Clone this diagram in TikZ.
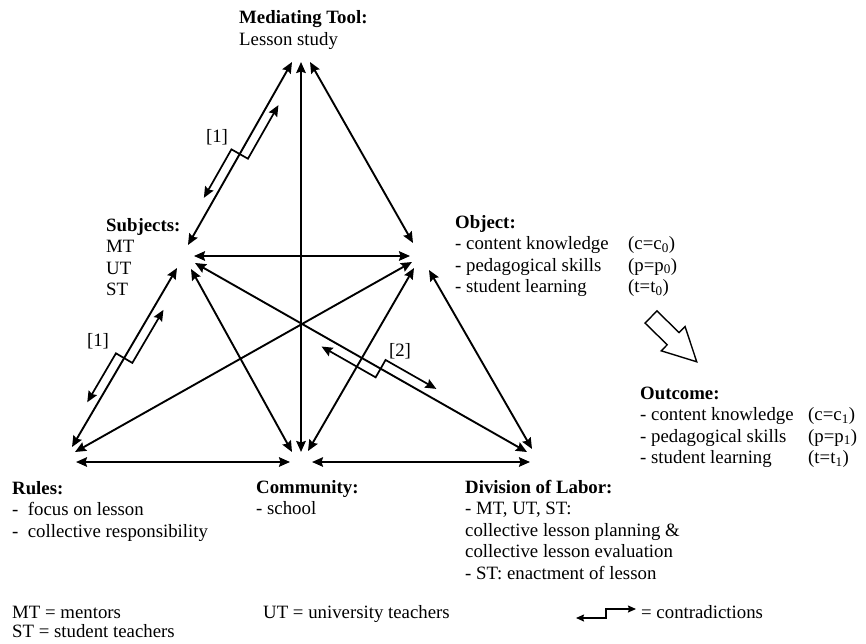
\documentclass[tikz,border=0pt]{standalone}
\usepackage{fontspec}
\setmainfont{Liberation Serif}
\usetikzlibrary{arrows.meta,calc}
\newcommand\contraarrow[7]{%
  \coordinate (#1m) at ($(#2)!#4!(#3)$);
  \coordinate (#1a) at ($(#2)!#6!#5:(#3)$);
  \coordinate (#1b) at ($(#1m)!#6!#5:(#3)$);
  \coordinate (#1c) at ($(#1m)!#6!-#5:(#3)$);
  \coordinate (#1d) at ($(#3)!#6!#5:(#2)$);
  \draw[#7] (#1a) -- (#1b) -- (#1c) -- (#1d);}
\begin{document}
\begin{tikzpicture}[x=1pt,y=-1pt,
  conn/.style={line width=1.9pt,
    {Stealth[length=11pt,width=9.5pt,inset=1.5pt]}-{Stealth[length=11pt,width=9.5pt,inset=1.5pt]}},
  contra/.style={line width=1.7pt,
    {Stealth[length=11pt,width=9.5pt,inset=1.5pt]}-{Stealth[length=11pt,width=9.5pt,inset=1.5pt]}},
  contrasmall/.style={line width=1.4pt,
    {Stealth[length=8pt,width=7pt,inset=1pt]}-{Stealth[length=8pt,width=7pt,inset=1pt]}},
  txt/.style={anchor=base west, inner sep=0pt, align=left, font=\fontsize{18.8}{21.5}\selectfont},
  lab/.style={anchor=base, inner sep=0pt, font=\fontsize{18.8}{21.5}\selectfont}]
\fill[white] (0,0) rectangle (866,644);
\useasboundingbox (0,0) rectangle (866,644);

% end points
\coordinate (T1) at (292,62);
\coordinate (T2) at (301,62);
\coordinate (T3) at (310,62);
\coordinate (S1) at (188,245);
\coordinate (S2) at (194,256);
\coordinate (S3) at (195,263);
\coordinate (S4) at (191,269);
\coordinate (S5) at (177,268);
\coordinate (O1) at (413,243);
\coordinate (O2) at (410,256);
\coordinate (O3) at (412,262);
\coordinate (O4) at (414,268);
\coordinate (O5) at (429,270);
\coordinate (R1) at (72,447);
\coordinate (R2) at (75,452);
\coordinate (R3) at (76,462);
\coordinate (C1) at (292,452);
\coordinate (C2) at (301,452);
\coordinate (C3) at (308,451);
\coordinate (C4) at (290,462);
\coordinate (C5) at (312,462);
\coordinate (D1) at (527,452);
\coordinate (D2) at (532,449);
\coordinate (D3) at (530,462);

% connectors
\draw[conn] (T1) -- (S1);
\draw[conn] (T2) -- (C2);
\draw[conn] (T3) -- (O1);
\draw[conn] (S2) -- (O2);
\draw[conn] (S3) -- (D1);
\draw[conn] (S4) -- (C1);
\draw[conn] (S5) -- (R1);
\draw[conn] (O3) -- (R2);
\draw[conn] (O4) -- (C3);
\draw[conn] (O5) -- (D2);
\draw[conn] (R3) -- (C4);
\draw[conn] (C5) -- (D3);

% contradictions
\coordinate (kA) at ($(S1)!0.232!(T1)$);
\coordinate (kB) at ($(S1)!0.79!(T1)$);
\contraarrow{k}{kA}{kB}{0.475}{90}{9.5pt}{contra}
\coordinate (lA) at ($(R1)!0.223!(S5)$);
\coordinate (lB) at ($(R1)!0.793!(S5)$);
\contraarrow{l}{lA}{lB}{0.48}{90}{9.5pt}{contra}
\coordinate (mA) at ($(S3)!0.396!(D1)$);
\coordinate (mB) at ($(S3)!0.712!(D1)$);
\contraarrow{m}{mA}{mB}{0.516}{270}{10pt}{contra}
\coordinate (gA) at (576,613.5);
\coordinate (gB) at (636,613.5);
\contraarrow{g}{gA}{gB}{0.5}{270}{4.5pt}{contrasmall}

\node[lab] (n1) at (217,143) {[1]};
\node[lab] (n2) at (98,346) {[1]};
\node[lab] (n3) at (400,356) {[2]};

% hollow arrow
\begin{scope}[shift={(651,317)}, rotate=-44.4]
  \draw[line width=1.4pt, fill=white] (0,-8.5) -- (31,-8.5) -- (31,-17) -- (64,0) -- (31,17) -- (31,8.5) -- (0,8.5) -- cycle;
\end{scope}

% texts (base anchor = baseline of last line)
\node[txt] (tool) at (239,45.5) {\textbf{Mediating Tool:}\\Lesson study};
\node[txt] (subj) at (106,295.5) {\textbf{Subjects:}\\MT\\UT\\ST};
\node[txt] (obj) at (455,292.5) {\textbf{Object:}\\- content knowledge\\- pedagogical skills\\- student learning};
\node[txt] (objv) at (628,292.5) {(c=c\textsubscript{0})\\(p=p\textsubscript{0})\\(t=t\textsubscript{0})};
\node[txt] (out) at (640,463.5) {\textbf{Outcome:}\\- content knowledge\\- pedagogical skills\\- student learning};
\node[txt] (outv) at (808,463.5) {(c=c\textsubscript{1})\\(p=p\textsubscript{1})\\(t=t\textsubscript{1})};
\node[txt] (rules) at (12,537) {\textbf{Rules:}\\-\ \ focus on lesson\\-\ \ collective responsibility};
\node[txt] (comm) at (256,514.5) {\textbf{Community:}\\- school};
\node[txt] (div) at (465,579) {\textbf{Division of Labor:}\\- MT, UT, ST:\\collective lesson planning \&\\collective lesson evaluation\\- ST: enactment of lesson};
\node[txt] (lg1) at (12,618) {MT = mentors};
\node[txt] (lg2) at (12,637) {ST = student teachers};
\node[txt] (lg3) at (263,618) {UT = university teachers};
\node[txt] (lg4) at (641,618) {= contradictions};
\end{tikzpicture}
\end{document}
